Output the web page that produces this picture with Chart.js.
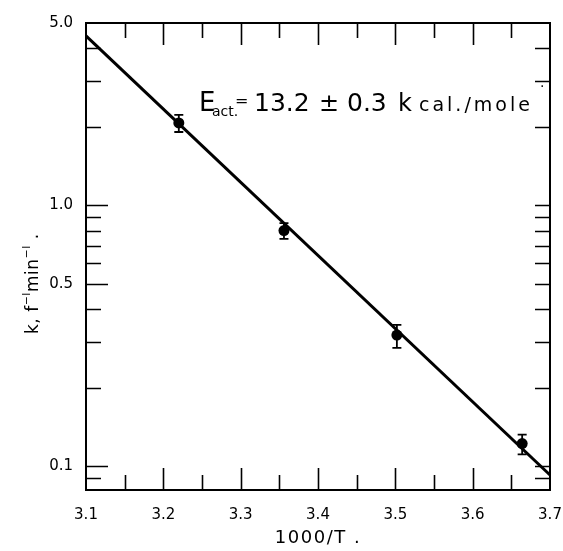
<!DOCTYPE html>
<html>
<head>
<meta charset="utf-8">
<script src="https://cdn.jsdelivr.net/npm/chart.js@4"></script>
<style>
  body { margin: 0; background: #fff; }
  canvas { display: block; }
</style>
</head>
<body>
<canvas id="arrhenius" width="563" height="551"></canvas>
<script>
const invT = [3.220, 3.356, 3.502, 3.664];
const kVals = [2.07, 0.80, 0.318, 0.122];
const kLow = [1.91, 0.743, 0.284, 0.111];
const kHigh = [2.22, 0.855, 0.348, 0.132];

// least squares line as drawn
const fitX = [3.1, 3.7];
const fitK = [4.46, 0.0925];

// tick labels and graph paper marks
const xTickVals = [3.1, 3.2, 3.3, 3.4, 3.5, 3.6, 3.7];
const xMinorVals = [3.15, 3.25, 3.35, 3.45, 3.55, 3.65];
const yTickVals = [5, 1, 0.5, 0.1];
const yMinorVals = [4, 3, 2, 0.9, 0.8, 0.7, 0.6, 0.4, 0.3, 0.2, 0.09];

const FONT = '"DejaVu Sans", sans-serif';

// pieces of the lettered note: text, font size, x start, baseline shift, letter spacing
const notePieces = [
    ['E', 26, 199, 0, 0],
    ['act.', 14, 212, 5, 0],
    ['=', 16, 235, -5, 0],
    ['13.2', 25, 254, 0, 0],
    ['\u00b1', 24, 319, 0, 0],
    ['0.3', 25, 347, 0, 0],
    ['k', 24, 398, 0, 0],
    ['cal./mole', 19, 419, 0, 3],
    ['.', 14, 540, -24, 0]
];

const paperPlugin = {
    id: 'paper',
    afterDatasetsDraw(chart) {
        const ctx = chart.ctx;
        const area = chart.chartArea;
        const xs = chart.scales.x;
        const ys = chart.scales.y;
        ctx.save();
        ctx.strokeStyle = '#000';
        ctx.lineCap = 'butt';

        // frame
        ctx.lineWidth = 2;
        ctx.strokeRect(area.left, area.top, area.right - area.left, area.bottom - area.top);

        // x ticks, bottom and top, pointing in
        ctx.lineWidth = 1.6;
        const xMarks = xTickVals.map(v => [v, 22]).concat(xMinorVals.map(v => [v, 15]));
        xMarks.forEach(([v, len]) => {
            const px = Math.round(xs.getPixelForValue(v)) + 0.5;
            if (px <= area.left + 2 || px >= area.right - 2) return;
            ctx.beginPath();
            ctx.moveTo(px, area.bottom);
            ctx.lineTo(px, area.bottom - len);
            ctx.moveTo(px, area.top);
            ctx.lineTo(px, area.top + len);
            ctx.stroke();
        });

        // y ticks, left long/short, right all short
        const yMarks = yTickVals.map(v => [v, 22]).concat(yMinorVals.map(v => [v, 15]));
        yMarks.forEach(([v, len]) => {
            const py = Math.round(ys.getPixelForValue(v)) + 0.5;
            if (py <= area.top + 2 || py >= area.bottom - 2) return;
            ctx.beginPath();
            ctx.moveTo(area.left, py);
            ctx.lineTo(area.left + len, py);
            ctx.moveTo(area.right, py);
            ctx.lineTo(area.right - 15, py);
            ctx.stroke();
        });

        // error bars
        ctx.lineWidth = 1.8;
        invT.forEach((t, i) => {
            const px = xs.getPixelForValue(t);
            const top = ys.getPixelForValue(kHigh[i]);
            const bot = ys.getPixelForValue(kLow[i]);
            ctx.beginPath();
            ctx.moveTo(px, top);
            ctx.lineTo(px, bot);
            ctx.moveTo(px - 4.5, top);
            ctx.lineTo(px + 4.5, top);
            ctx.moveTo(px - 4.5, bot);
            ctx.lineTo(px + 4.5, bot);
            ctx.stroke();
        });

        ctx.fillStyle = '#000';
        ctx.textBaseline = 'alphabetic';
        ctx.textAlign = 'left';

        // activation energy note
        notePieces.forEach(([txt, size, x, dy, sp]) => {
            ctx.font = size + 'px ' + FONT;
            ctx.letterSpacing = sp + 'px';
            ctx.fillText(txt, x, 111 + dy);
        });

        // x title
        ctx.font = '18px ' + FONT;
        ctx.letterSpacing = '1.5px';
        ctx.textAlign = 'center';
        ctx.fillText('1000/T .', (area.left + area.right) / 2, 543);

        // y title, rotated
        ctx.letterSpacing = '0.5px';
        ctx.translate(38, 334);
        ctx.rotate(-Math.PI / 2);
        ctx.textAlign = 'left';
        let yx = 0;
        const yParts = [
            ['k, f', 17, 0],
            ['\u2212l', 11, -8],
            ['min', 17, 0],
            ['\u2212l', 11, -8],
            [' .', 17, 0]
        ];
        yParts.forEach(([txt, size, dy]) => {
            ctx.font = size + 'px ' + FONT;
            ctx.fillText(txt, yx, dy);
            yx += ctx.measureText(txt).width;
        });
        ctx.restore();
    }
};

new Chart(document.getElementById('arrhenius'), {
    type: 'scatter',
    data: {
        datasets: [
            {
                label: 'fit',
                data: fitX.map((t, i) => ({ x: t, y: fitK[i] })),
                showLine: true,
                borderColor: '#000',
                borderWidth: 3,
                pointRadius: 0
            },
            {
                label: 'k',
                data: invT.map((t, i) => ({ x: t, y: kVals[i] })),
                showLine: false,
                pointRadius: 5.5,
                pointBackgroundColor: '#000',
                pointBorderColor: '#000',
                pointBorderWidth: 0
            }
        ]
    },
    options: {
        responsive: false,
        animation: false,
        layout: { padding: { top: 23, right: 13, left: 0, bottom: 0 } },
        plugins: {
            legend: { display: false },
            tooltip: { enabled: false }
        },
        scales: {
            x: {
                type: 'linear',
                min: 3.1,
                max: 3.7,
                afterBuildTicks: scale => { scale.ticks = xTickVals.map(v => ({ value: v })); },
                afterFit: scale => {
                    scale.height = 61;
                    scale.paddingLeft = 0;
                    scale.paddingRight = 0;
                },
                grid: { display: false, drawTicks: false },
                border: { display: false },
                ticks: {
                    padding: 16,
                    color: '#000',
                    maxRotation: 0,
                    autoSkip: false,
                    font: { family: FONT, size: 15 },
                    callback: v => v.toFixed(1)
                }
            },
            y: {
                type: 'logarithmic',
                min: 0.081,
                max: 5,
                afterBuildTicks: scale => { scale.ticks = yTickVals.map(v => ({ value: v })); },
                afterFit: scale => {
                    scale.width = 86;
                    scale.paddingTop = 0;
                    scale.paddingBottom = 0;
                },
                grid: { display: false, drawTicks: false },
                border: { display: false },
                ticks: {
                    padding: 13,
                    color: '#000',
                    font: { family: FONT, size: 15 },
                    callback: v => Number(v).toFixed(1)
                }
            }
        }
    },
    plugins: [paperPlugin]
});
</script>
</body>
</html>
